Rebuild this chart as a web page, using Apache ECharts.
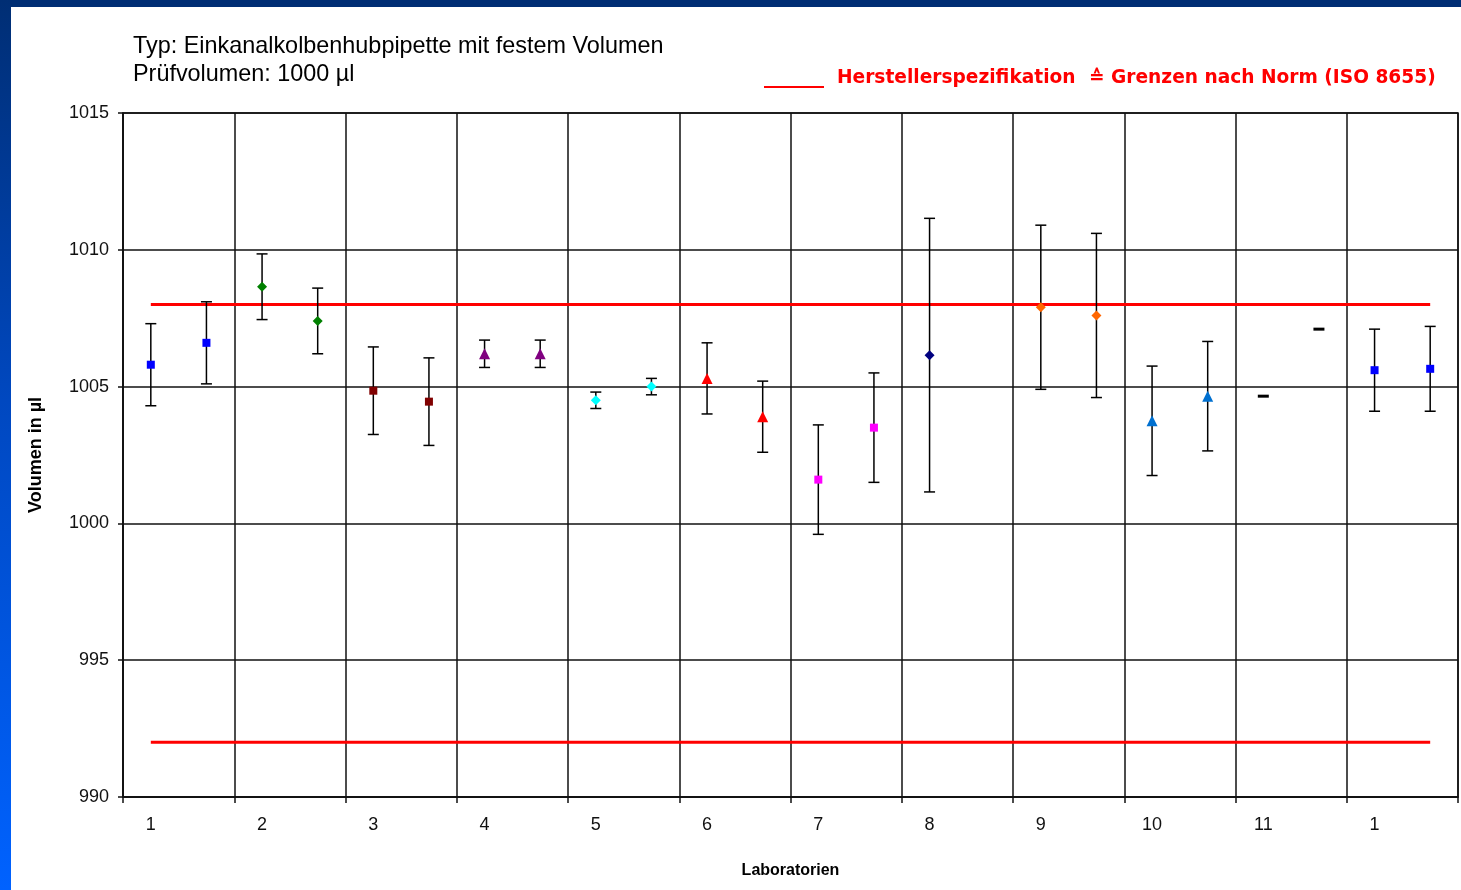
<!DOCTYPE html>
<html>
<head>
<meta charset="utf-8">
<script src="https://cdn.jsdelivr.net/npm/echarts@6/dist/echarts.min.js"></script>
<style>
html,body{margin:0;padding:0;background:#fff;width:1461px;height:890px;overflow:hidden;}
#topbar{position:absolute;left:0;top:0;width:1461px;height:7px;background:#002e74;}
#leftbar{position:absolute;left:0;top:0;width:11px;height:890px;background:linear-gradient(to bottom,#002e74 0%,#0048c0 45%,#0062ff 100%);}
#chart{position:absolute;left:0;top:0;width:1461px;height:890px;}
</style>
</head>
<body>
<div id="chart"></div>
<div id="topbar"></div>
<div id="leftbar"></div>
<script>
// Group labels (x axis), two measurements per laboratory
const groupLabels = ['1','2','3','4','5','6','7','8','9','10','11','1'];
// Mean volume per measurement (µl), 2 per group; null = missing
const means = [
  1005.8, 1006.6,
  1008.65, 1007.4,
  1004.85, 1004.45,
  1006.2, 1006.2,
  1004.5, 1005.0,
  1005.3, 1003.9,
  1001.6, 1003.5,
  1006.15, null,
  1007.9, 1007.6,
  1003.75, 1004.65,
  1004.65, 1007.1,
  1005.6, 1005.65
];
// Error bar half-widths (µl); null = no bar
const errors = [
  1.5, 1.5,
  1.2, 1.2,
  1.6, 1.6,
  0.5, 0.5,
  0.3, 0.3,
  1.3, 1.3,
  2.0, 2.0,
  5.0, null,
  3.0, 3.0,
  2.0, 2.0,
  null, null,
  1.5, 1.55
];
// Marker per group
const groupColors = ['#0000ff','#008000','#800000','#800080','#00ffff','#ff0000','#ff00ff','#000080','#ff6600','#0070d0','#000000','#0000ff'];
const groupSymbols = ['rect','diamond','rect','triangle','diamond','triangle','rect','diamond','diamond','triangle','rect','rect'];
// Limits
const specUpper = 1008;
const specLower = 992;

const FONT = 'Liberation Sans, Arial, sans-serif';
const cats = [];
for (let g = 0; g < groupLabels.length; g++) { cats.push(g + 'a'); cats.push(g + 'b'); }

const scatterData = [];
const errData = [];
means.forEach((v, i) => {
  const g = Math.floor(i / 2);
  if (v == null) return;
  const sym = groupSymbols[g];
  let size = 9;
  if (sym === 'rect') size = 8;
  if (sym === 'triangle') size = 11;
  if (sym === 'diamond') size = 10;
  if (g === 10) size = [11, 3];
  scatterData.push({ value: [i, v], symbol: sym, symbolSize: size, itemStyle: { color: groupColors[g], opacity: 1 } });
  if (errors[i] != null) errData.push([i, v - errors[i], v + errors[i]]);
});

const chart = echarts.init(document.getElementById('chart'), null, { renderer: 'canvas' });
chart.setOption({
  animation: false,
  backgroundColor: '#ffffff',
  textStyle: { fontFamily: FONT },
  title: {
    text: 'Typ: Einkanalkolbenhubpipette mit festem Volumen\nPrüfvolumen: 1000 µl',
    left: 128, top: 28,
    textStyle: { fontFamily: FONT, fontSize: 23.4, fontWeight: 'normal', color: '#000', lineHeight: 28 }
  },
  graphic: [
    { type: 'line', shape: { x1: 764, y1: 87, x2: 824, y2: 87 }, style: { stroke: '#ff0000', lineWidth: 2 } },
    { type: 'text', left: 837, top: 69, style: { text: 'Herstellerspezifikation', fill: '#ff0000', font: 'bold 18.6px "DejaVu Sans", sans-serif' } },
    { type: 'text', left: 1089, top: 69, style: { text: '≙ Grenzen nach Norm (ISO 8655)', fill: '#ff0000', font: 'bold 18.6px "DejaVu Sans", sans-serif' } }
  ],
  grid: { left: 123, right: 3, top: 113, bottom: 93, show: true, borderColor: '#111', borderWidth: 1.5, backgroundColor: 'transparent' },
  xAxis: {
    type: 'category',
    data: cats,
    boundaryGap: true,
    name: 'Laboratorien',
    nameLocation: 'middle',
    nameGap: 66,
    nameTextStyle: { fontFamily: FONT, fontSize: 16, fontWeight: 'bold', color: '#000' },
    axisLine: { show: true, lineStyle: { color: '#111', width: 1.5 } },
    axisTick: { show: true, interval: 1, length: 6, inside: false, lineStyle: { color: '#111', width: 1.5 } },
    axisLabel: {
      interval: 1, margin: 19, fontSize: 18, color: '#111', fontFamily: FONT,
      formatter: (val, idx) => groupLabels[Math.floor(idx / 2)]
    },
    splitLine: { show: true, interval: 1, lineStyle: { color: '#111', width: 1.5 } }
  },
  yAxis: {
    type: 'value',
    min: 990, max: 1015, interval: 5,
    name: 'Volumen in µl',
    nameLocation: 'middle',
    nameGap: 78,
    nameTextStyle: { fontFamily: FONT, fontSize: 18, fontWeight: 'bold', color: '#000' },
    axisLine: { show: true, lineStyle: { color: '#111', width: 1.5 } },
    axisTick: { show: true, length: 5, lineStyle: { color: '#111', width: 1.5 } },
    axisLabel: { fontSize: 18, color: '#111', margin: 14, fontFamily: FONT, formatter: v => String(v) },
    splitLine: { show: true, lineStyle: { color: '#111', width: 1.5 } }
  },
  series: [
    {
      type: 'line', name: 'Herstellerspezifikation oben',
      data: cats.map(() => specUpper), symbol: 'none',
      lineStyle: { color: '#ff0000', width: 3 }, z: 3, silent: true
    },
    {
      type: 'line', name: 'Herstellerspezifikation unten',
      data: cats.map(() => specLower), symbol: 'none',
      lineStyle: { color: '#ff0000', width: 3 }, z: 3, silent: true
    },
    {
      type: 'custom', name: 'Fehler',
      data: errData, z: 4,
      renderItem: function (params, api) {
        const x = api.value(0);
        const lo = api.coord([x, api.value(1)]);
        const hi = api.coord([x, api.value(2)]);
        const hw = 5.5;
        const st = { stroke: '#000', lineWidth: 1.5 };
        return {
          type: 'group',
          children: [
            { type: 'line', shape: { x1: lo[0], y1: lo[1], x2: hi[0], y2: hi[1] }, style: st },
            { type: 'line', shape: { x1: lo[0] - hw, y1: lo[1], x2: lo[0] + hw, y2: lo[1] }, style: st },
            { type: 'line', shape: { x1: hi[0] - hw, y1: hi[1], x2: hi[0] + hw, y2: hi[1] }, style: st }
          ]
        };
      }
    },
    {
      type: 'scatter', name: 'Messwerte',
      data: scatterData, z: 5
    }
  ]
});
</script>
</body>
</html>
